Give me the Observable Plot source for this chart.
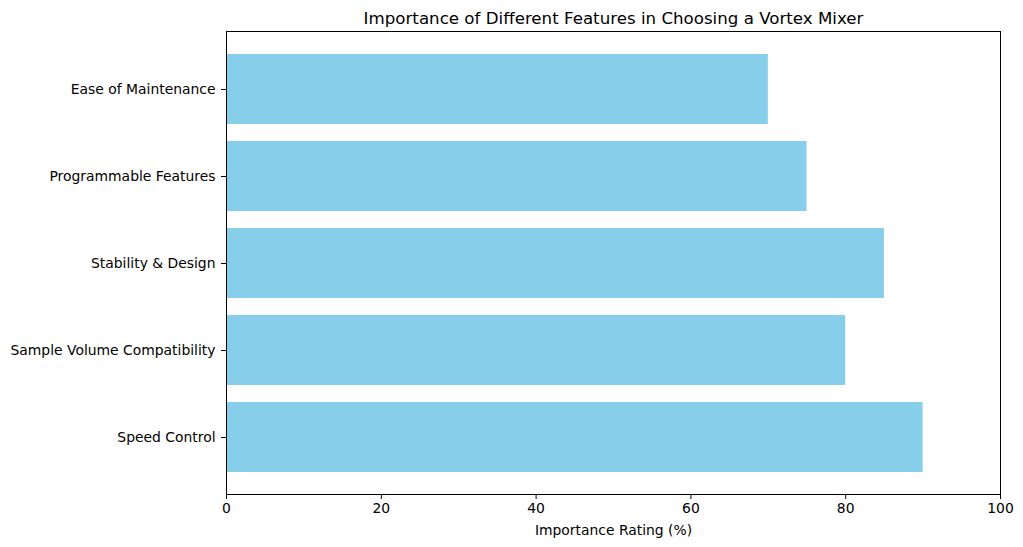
<!DOCTYPE html>
<html>
<head>
<meta charset="utf-8">
<script src="https://cdn.jsdelivr.net/npm/d3@7"></script>
<script src="https://cdn.jsdelivr.net/npm/@observablehq/plot@0.6"></script>
<style>
  html, body { margin: 0; padding: 0; background: #fff; }
  #chart svg { display: block; }
</style>
</head>
<body>
<div id="chart"></div>
<script>
const features = ["Speed Control", "Sample Volume Compatibility", "Stability & Design", "Programmable Features", "Ease of Maintenance"];
const ratings = [90, 80, 85, 75, 70];
const xTicks = [0, 20, 40, 60, 80, 100];
const title = "Importance of Different Features in Choosing a Vortex Mixer";
const xLabel = "Importance Rating (%)";

const data = features.map((f, i) => ({feature: f, rating: ratings[i]}));
const font = "DejaVu Sans, sans-serif";

const chart = Plot.plot({
  width: 1023,
  height: 547,
  marginTop: 31,
  marginBottom: 53,
  marginLeft: 226,
  marginRight: 23,
  style: {fontFamily: font, fontSize: "13.9px", color: "black", background: "white"},
  x: {domain: [0, 100]},
  y: {domain: features.slice().reverse(), paddingInner: 0.2, paddingOuter: 0.24},
  marks: [
    Plot.barX(data, {x: "rating", y: "feature", fill: "#87CEEB"}),
    Plot.frame({stroke: "black", strokeWidth: 1}),
    Plot.axisX({ticks: xTicks, tickSize: 5, tickPadding: 4, label: null, fontSize: 13.9, stroke: "black", fill: "black"}),
    Plot.axisY({tickSize: 5, tickPadding: 6, label: null, fontSize: 13.9, stroke: "black", fill: "black"}),
    Plot.text([xLabel], {frameAnchor: "bottom", dy: 36, text: d => d, fontSize: 13.9, fill: "black", lineAnchor: "middle"}),
    Plot.text([title], {frameAnchor: "top", dy: -13, text: d => d, fontSize: 16.67, fill: "black", lineAnchor: "middle"})
  ]
});
document.getElementById("chart").appendChild(chart);
</script>
</body>
</html>
